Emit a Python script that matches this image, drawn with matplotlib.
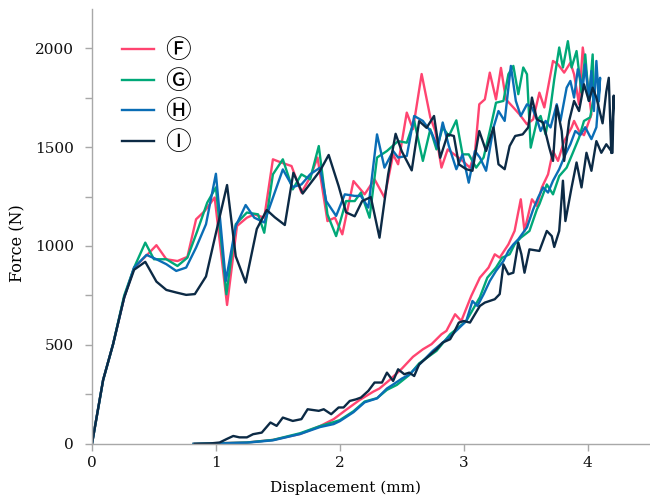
import matplotlib
matplotlib.use("Agg")
import matplotlib.pyplot as plt
from matplotlib.ticker import MultipleLocator

# Force-displacement paths: loading branch followed by the return branch.
# ---- F ----
F_load_x = [0, 0.09, 0.17, 0.26, 0.34, 0.45, 0.52, 0.60, 0.69, 0.77, 0.84, 0.91, 0.99, 1.09,
            1.17, 1.25, 1.31, 1.39, 1.46, 1.53, 1.61, 1.69, 1.76, 1.82, 1.90, 1.96, 2.02, 2.11,
            2.20, 2.28, 2.36, 2.43, 2.47, 2.54, 2.59, 2.66, 2.73, 2.77, 2.82, 2.87, 2.94, 2.99,
            3.05, 3.09, 3.125, 3.17, 3.21, 3.26, 3.30, 3.34, 3.40, 3.45, 3.51, 3.56, 3.61, 3.65,
            3.72, 3.76, 3.81, 3.86, 3.89, 3.93, 3.96, 3.99, 4.03]
F_load_f = [0, 323, 503, 740, 891, 958, 1004, 933, 924, 945, 1135, 1177, 1245, 702,
            1101, 1143, 1160, 1143, 1438, 1421, 1404, 1270, 1346, 1447, 1126, 1143, 1059, 1328,
            1261, 1337, 1245, 1463, 1413, 1674, 1590, 1869, 1650, 1581, 1396, 1488, 1455, 1430,
            1396, 1471, 1716, 1741, 1876, 1741, 1900, 1741, 1700, 1665, 1615, 1640, 1775, 1700,
            1935, 1918, 1876, 1926, 1868, 1716, 2003, 1868, 1665]
F_ret_x = [3.97, 3.93, 3.89, 3.87, 3.81, 3.76, 3.72, 3.68, 3.63, 3.59, 3.55, 3.49, 3.46, 3.41,
           3.36, 3.29, 3.25, 3.20, 3.13, 3.06, 2.98, 2.93, 2.86, 2.82, 2.74, 2.67, 2.59, 2.50,
           2.40, 2.32, 2.27, 2.16, 2.05, 1.95, 1.84, 1.68, 1.46, 1.25, 1.00, 0.82]
F_ret_f = [1560, 1581, 1632, 1599, 1530, 1430, 1480, 1362, 1296, 1202, 1236, 1076, 1236, 1076,
           1008, 941, 958, 891, 840, 747, 621, 655, 571, 554, 504, 478, 440, 380,
           322, 280, 264, 222, 172, 125, 90, 50, 20, 7, 3, 0]

# ---- G ----
G_load_x = [0, 0.09, 0.17, 0.26, 0.34, 0.43, 0.50, 0.60, 0.69, 0.77, 0.85, 0.93, 1.00, 1.085,
            1.16, 1.25, 1.34, 1.39, 1.46, 1.54, 1.62, 1.69, 1.76, 1.83, 1.90, 1.97, 2.05, 2.12,
            2.17, 2.24, 2.30, 2.38, 2.47, 2.54, 2.60, 2.67, 2.73, 2.78, 2.83, 2.88, 2.94, 2.99,
            3.04, 3.10, 3.16, 3.21, 3.26, 3.32, 3.36, 3.40, 3.44, 3.48, 3.51, 3.54, 3.59, 3.62,
            3.66, 3.70, 3.73, 3.77, 3.80, 3.84, 3.87, 3.91, 3.95, 3.98, 4.01, 4.04, 4.05]
G_load_f = [0, 323, 503, 750, 891, 1017, 933, 933, 899, 941, 1076, 1219, 1296, 756,
            1110, 1169, 1160, 1067, 1362, 1438, 1286, 1362, 1337, 1505, 1160, 1050, 1227, 1227,
            1270, 1143, 1447, 1480, 1530, 1522, 1632, 1430, 1590, 1488, 1599, 1556, 1635, 1463,
            1463, 1396, 1447, 1581, 1724, 1733, 1868, 1910, 1767, 1902, 1868, 1497, 1632, 1657,
            1564, 1700, 1842, 2003, 1902, 2035, 1902, 1985, 1775, 1968, 1733, 1968, 1758]
G_ret_x = [4.02, 3.97, 3.93, 3.88, 3.83, 3.77, 3.72, 3.67, 3.61, 3.59, 3.53, 3.46, 3.41, 3.37,
           3.31, 3.26, 3.19, 3.13, 3.02, 2.89, 2.78, 2.64, 2.56, 2.46, 2.38, 2.30, 2.20, 2.11,
           2.00, 1.95, 1.84, 1.68, 1.46, 1.25, 1.00, 0.82]
G_ret_f = [1650, 1632, 1547, 1471, 1396, 1353, 1261, 1311, 1211, 1185, 1076, 1042, 1008, 958,
           941, 891, 840, 741, 621, 554, 470, 407, 348, 298, 273, 231, 214, 165,
           120, 110, 90, 54, 20, 7, 3, 0]

# ---- H ----
H_load_x = [0, 0.09, 0.17, 0.26, 0.34, 0.44, 0.52, 0.60, 0.68, 0.76, 0.84, 0.92, 1.00, 1.08,
            1.16, 1.24, 1.31, 1.39, 1.54, 1.62, 1.69, 1.76, 1.84, 1.89, 1.97, 2.04, 2.12, 2.17,
            2.23, 2.30, 2.36, 2.43, 2.47, 2.54, 2.60, 2.67, 2.74, 2.79, 2.83, 2.88, 2.94, 2.99,
            3.04, 3.09, 3.13, 3.18, 3.24, 3.28, 3.33, 3.38, 3.42, 3.46, 3.51, 3.55, 3.59, 3.62,
            3.66, 3.70, 3.75, 3.78, 3.83, 3.86, 3.89, 3.92, 3.96, 3.98, 4.01, 4.03, 4.05, 4.07,
            4.09, 4.10]
H_load_f = [0, 323, 503, 740, 891, 955, 933, 908, 874, 891, 992, 1110, 1365, 823,
            1101, 1207, 1143, 1119, 1387, 1298, 1311, 1362, 1396, 1227, 1152, 1261, 1253, 1253,
            1194, 1564, 1396, 1480, 1447, 1455, 1657, 1632, 1573, 1497, 1624, 1505, 1388, 1463,
            1320, 1480, 1447, 1380, 1599, 1682, 1632, 1910, 1733, 1657, 1716, 1700, 1640, 1581,
            1632, 1599, 1716, 1632, 1800, 1834, 1750, 1893, 1800, 1918, 1733, 1884, 1682, 1935,
            1733, 1850]
H_ret_x = [4.07, 4.03, 3.98, 3.94, 3.90, 3.86, 3.82, 3.77, 3.72, 3.68, 3.64, 3.60, 3.56, 3.51,
           3.44, 3.40, 3.36, 3.32, 3.26, 3.21, 3.16, 3.11, 3.07, 3.02, 2.91, 2.75, 2.64, 2.56,
           2.50, 2.43, 2.38, 2.30, 2.20, 2.11, 2.00, 1.95, 1.84, 1.68, 1.46, 1.25, 1.00, 0.82]
H_ret_f = [1600, 1540, 1600, 1560, 1581, 1514, 1463, 1388, 1330, 1270, 1296, 1245, 1185, 1094,
           1034, 1008, 975, 924, 874, 823, 756, 697, 722, 621, 554, 470, 400, 350,
           330, 300, 280, 230, 210, 160, 115, 100, 85, 50, 18, 6, 2, 0]

# ---- I ----
I_load_x = [0, 0.09, 0.17, 0.26, 0.34, 0.43, 0.52, 0.60, 0.68, 0.76, 0.83, 0.92, 1.00, 1.09,
            1.16, 1.24, 1.33, 1.41, 1.475, 1.556, 1.625, 1.70, 1.84, 1.91, 1.99, 2.05, 2.12,
            2.18, 2.25, 2.32, 2.39, 2.45, 2.50, 2.58, 2.64, 2.70, 2.76, 2.81, 2.87, 2.92, 2.96,
            3.02, 3.07, 3.125, 3.18, 3.24, 3.28, 3.33, 3.37, 3.415, 3.475, 3.52, 3.55, 3.59,
            3.64, 3.69, 3.72, 3.75, 3.79, 3.81, 3.85, 3.89, 3.93, 3.97, 4.01, 4.04, 4.07, 4.12,
            4.15, 4.17, 4.19, 4.21]
I_load_f = [0, 323, 503, 740, 880, 920, 820, 778, 765, 753, 757, 846, 1065, 1308,
            948, 815, 1086, 1182, 1145, 1106, 1370, 1265, 1380, 1460, 1303, 1170, 1150,
            1227, 1247, 1042, 1362, 1567, 1478, 1382, 1631, 1597, 1657, 1446, 1564, 1556, 1413,
            1388, 1380, 1581, 1480, 1599, 1413, 1388, 1505, 1556, 1564, 1599, 1750, 1640,
            1624, 1497, 1430, 1708, 1581, 1430, 1632, 1733, 1682, 1817, 1733, 1800, 1750, 1620,
            1780, 1850, 1470, 1760]
I_ret_x = [4.20, 4.15, 4.11, 4.07, 4.03, 3.99, 3.95, 3.91, 3.87, 3.82, 3.80, 3.77, 3.73, 3.71,
           3.67, 3.61, 3.53, 3.49, 3.465, 3.44, 3.40, 3.36, 3.32, 3.29, 3.25, 3.17, 3.13, 3.09,
           3.05, 3.00, 2.96, 2.92, 2.89, 2.83, 2.78, 2.64, 2.60, 2.56, 2.52, 2.47, 2.43, 2.38,
           2.34, 2.28, 2.23, 2.17, 2.13, 2.08, 2.03, 1.99, 1.93, 1.87, 1.83, 1.74, 1.69, 1.62,
           1.54, 1.49, 1.44, 1.37, 1.30, 1.25, 1.19, 1.14, 1.085, 1.03, 0.95, 0.83]
I_ret_f = [1471, 1514, 1471, 1530, 1380, 1471, 1296, 1422, 1296, 1126, 1330, 1076, 995, 1050,
           1076, 975, 983, 865, 958, 1017, 865, 857, 907, 757, 731, 714, 697, 655,
           613, 621, 613, 562, 529, 512, 478, 402, 343, 360, 352, 377, 318, 360,
           310, 310, 268, 234, 225, 217, 184, 184, 150, 175, 167, 175, 125, 116,
           133, 91, 108, 57, 49, 33, 33, 40, 24, 7, 2, 0]

LABELS = ["\u24bb", "\u24bc", "\u24bd", "\u24be"]   # circled F, G, H, I
COLORS = ["#ff4470", "#00a878", "#0a6db5", "#0c2a45"]

series = [
    (F_load_x + F_ret_x, F_load_f + F_ret_f),
    (G_load_x + G_ret_x, G_load_f + G_ret_f),
    (H_load_x + H_ret_x, H_load_f + H_ret_f),
    (I_load_x + I_ret_x, I_load_f + I_ret_f),
]

plt.rcParams["font.family"] = ["DejaVu Serif"]
fig = plt.figure(figsize=(6.5, 5.01), dpi=100)
ax = fig.add_axes([0.1415, 0.114, 0.858, 0.869])

for (xs, fs), lab, col in zip(series, LABELS, COLORS):
    ax.plot(xs, fs, color=col, lw=1.7, label=lab)

ax.set_xlim(0, 4.5)
ax.set_ylim(0, 2200)
ax.set_xticks([0, 1, 2, 3, 4])
ax.set_yticks([0, 500, 1000, 1500, 2000])
ax.yaxis.set_minor_locator(MultipleLocator(250))

grey = "#a8a8a8"
for side in ("top", "right"):
    ax.spines[side].set_visible(False)
for side in ("left", "bottom"):
    ax.spines[side].set_color(grey)
    ax.spines[side].set_linewidth(1.0)
ax.tick_params(which="both", direction="out", length=5, width=1.0, color=grey,
               labelsize=11, labelcolor="#111111")
ax.tick_params(axis="y", pad=8)
ax.tick_params(axis="x", pad=4)

ax.set_xlabel("Displacement (mm)", fontsize=11)
ax.set_ylabel("Force (N)", fontsize=11.5)
ax.xaxis.set_label_coords(0.455, -0.085)
ax.yaxis.set_label_coords(-0.118, 0.46)

leg = ax.legend(loc="upper left", bbox_to_anchor=(0.012, 0.985), frameon=False,
                handlelength=1.25, handletextpad=0.45, labelspacing=0.18,
                prop={"family": ["Noto Sans CJK JP", "DejaVu Sans"], "size": 18.5})

fig.savefig("out.png", dpi=100)
